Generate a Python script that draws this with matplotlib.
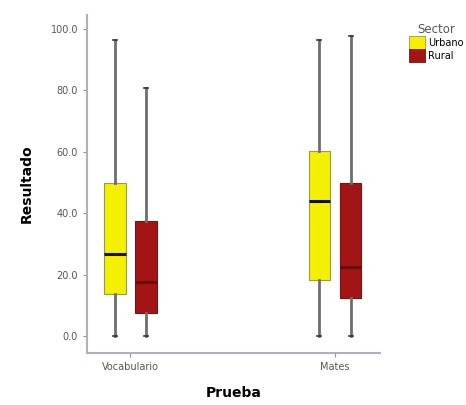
import matplotlib.pyplot as plt
from matplotlib.patches import Patch

pruebas = ['Vocabulario', 'Mates']
sectores = ['Urbano', 'Rural']
colores = ['#f5f000', '#a31515']
bordes = ['#9a9a40', '#7a1010']
medianas = ['#111111', '#6a0c0c']

# estadisticos: [Vocabulario, Mates]
urbano_min = [0.0, 0.0]
urbano_q1 = [13.7, 18.2]
urbano_med = [26.7, 44.0]
urbano_q3 = [49.8, 60.3]
urbano_max = [96.4, 96.4]

rural_min = [0.0, 0.0]
rural_q1 = [7.5, 12.4]
rural_med = [17.6, 22.5]
rural_q3 = [37.5, 49.8]
rural_max = [80.8, 97.7]

yticks = [0, 20, 40, 60, 80, 100]

datos = {
    'Urbano': (urbano_min, urbano_q1, urbano_med, urbano_q3, urbano_max),
    'Rural': (rural_min, rural_q1, rural_med, rural_q3, rural_max),
}

fig = plt.figure(figsize=(4.66, 4.05), dpi=100)
ax = fig.add_axes([0.187, 0.128, 0.628, 0.835])

desplaz = [-0.075, 0.078]
for k, sector in enumerate(sectores):
    mn, q1, med, q3, mx = datos[sector]
    stats = []
    for i in range(len(pruebas)):
        stats.append({'whislo': mn[i], 'q1': q1[i], 'med': med[i],
                      'q3': q3[i], 'whishi': mx[i], 'fliers': []})
    pos = [i + desplaz[k] for i in range(len(pruebas))]
    ax.bxp(stats, positions=pos, widths=0.105, patch_artist=True,
           showfliers=False, manage_ticks=False,
           boxprops=dict(facecolor=colores[k], edgecolor=bordes[k], linewidth=0.8),
           medianprops=dict(color=medianas[k], linewidth=2.2),
           whiskerprops=dict(color='#6e6e6e', linewidth=2.0),
           capprops=dict(color='#333333', linewidth=1.2),
           capwidths=0.02)

ax.set_xlim(-0.21, 1.22)
ax.set_ylim(-5.5, 104.5)
ax.set_xticks(range(len(pruebas)))
ax.set_xticklabels(pruebas, fontsize=7, color='#555555')
ax.set_yticks(yticks)
ax.set_yticklabels([f'{v:.1f}' for v in yticks], fontsize=7, color='#555555')
ax.tick_params(axis='both', length=3, width=0.8, color='#9090a8')

for s in ['top', 'right']:
    ax.spines[s].set_visible(False)
for s in ['left', 'bottom']:
    ax.spines[s].set_color('#b0b0c0')
    ax.spines[s].set_linewidth(1.5)

ax.set_ylabel('Resultado', fontsize=10, fontweight='bold', labelpad=12)
ax.set_xlabel('Prueba', fontsize=10, fontweight='bold', labelpad=10)

handles = [Patch(facecolor=colores[k], edgecolor=bordes[k], linewidth=0.6)
           for k in range(len(sectores))]
leg = fig.legend(handles, sectores, title='Sector', loc='upper left',
                 bbox_to_anchor=(0.868, 0.955), frameon=False, fontsize=7,
                 title_fontsize=8.5, handlelength=1.6, handleheight=1.7,
                 handletextpad=0.35, labelspacing=0.0, borderpad=0.0)
leg._legend_box.align = 'center'
leg.get_title().set_color('#555555')

fig.savefig('out.png', dpi=100)
